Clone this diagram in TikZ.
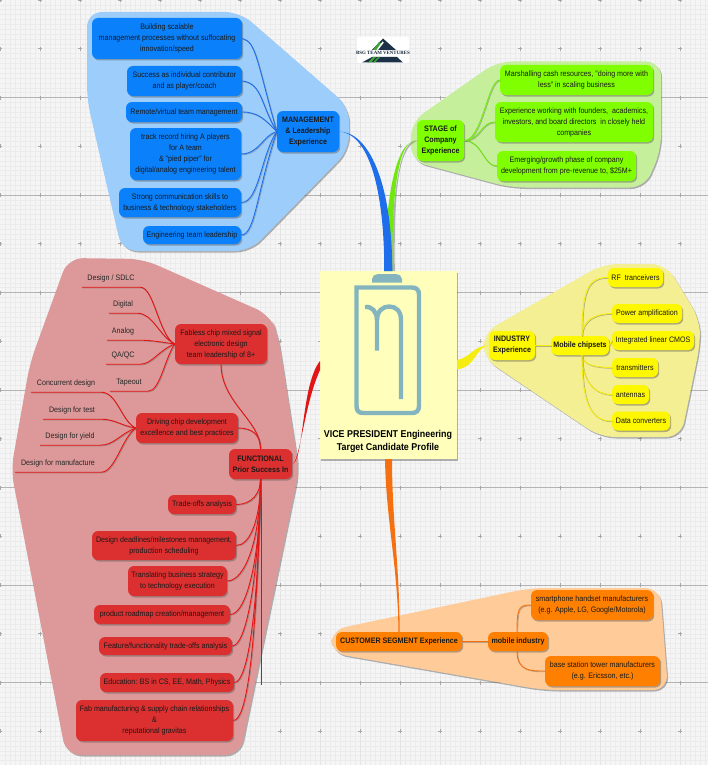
\documentclass[tikz,border=0pt]{standalone}
\usepackage{fontspec}
\setmainfont{Liberation Sans}[FakeStretch=0.9]
\newfontfamily\logofont{Liberation Serif}
\usetikzlibrary{shadows}
\definecolor{bgbase}{HTML}{F5F5F5}
\definecolor{gridminor}{HTML}{EBEBEB}
\definecolor{gridmajor}{HTML}{B4B4B4}
\definecolor{gridvert}{HTML}{E4E4E4}
\definecolor{tickgray}{HTML}{A8A8A8}
\definecolor{bluenode}{HTML}{0A80FA}
\definecolor{bluehull}{HTML}{9CCDFB}
\definecolor{blueline}{HTML}{1E6EEB}
\definecolor{greennode}{HTML}{80FF00}
\definecolor{greenhull}{HTML}{C6EF9C}
\definecolor{greenline}{HTML}{70E810}
\definecolor{yellownode}{HTML}{FDF700}
\definecolor{yellowhull}{HTML}{F3EF92}
\definecolor{yellowline}{HTML}{F5EC10}
\definecolor{orangenode}{HTML}{FF8000}
\definecolor{orangehull}{HTML}{FFCC99}
\definecolor{orangeline}{HTML}{F47010}
\definecolor{rednode}{HTML}{DC3030}
\definecolor{redhull}{HTML}{DD9999}
\definecolor{redline}{HTML}{E21414}
\definecolor{centerfill}{HTML}{FFFFBB}
\definecolor{iconcolor}{HTML}{84B5BF}
\definecolor{logonavy}{HTML}{1C3048}
\definecolor{logogreen}{HTML}{3FA535}
\tikzset{
  softshadow/.style={drop shadow={shadow xshift=1.2pt,shadow yshift=-1.5pt,opacity=.45,fill=black!65}},
  boxbase/.style={rounded corners=6pt,inner sep=0pt,align=center,softshadow,
     font=\fontsize{7.9}{11}\selectfont,text=black!90},
  bluebox/.style={boxbase,fill=bluenode},
  greenbox/.style={boxbase,fill=greennode},
  yellowbox/.style={boxbase,fill=yellownode},
  orangebox/.style={boxbase,fill=orangenode},
  redbox/.style={boxbase,fill=rednode},
  hullbase/.style={rounded corners=15pt,softshadow},
  leaf/.style={inner sep=0pt,minimum height=17pt,align=center,
     font=\fontsize{7.9}{11}\selectfont,text=black!85},
  link/.style={line width=.9pt,preaction={draw=black!60,line width=.8pt,opacity=.45,
     transform canvas={xshift=.8pt,yshift=-.8pt}}},
  bluelink/.style={link,draw=blueline},
  greenlink/.style={link,draw=greenline},
  yellowlink/.style={link,draw=yellowline},
  orangelink/.style={link,draw=orangeline},
  redlink/.style={link,draw=redline},
  iconstroke/.style={draw=iconcolor,line width=4.4pt,fill=none},
  tickmark/.style={draw=tickgray,line width=.6pt}
}
\newcommand{\bb}[1]{\textbf{#1}}
\begin{document}
\begin{tikzpicture}[x=1pt,y=-1pt]
\useasboundingbox (0,0) rectangle (710,768);
% ---------- grid background
\fill[bgbase] (0,0) rectangle (708,765);
\foreach \k in {1,...,141} \draw[gridminor,line width=.5pt] (5*\k,0) -- (5*\k,765);
\foreach \k in {1,...,156} \draw[gridminor,line width=.5pt] (0,4.875*\k) -- (708,4.875*\k);
\foreach \k in {1,...,17} \draw[gridvert,line width=.6pt] (40*\k,0) -- (40*\k,765);
\foreach \k in {1,...,7} \draw[gridmajor,line width=.8pt] (0,97.5*\k) -- (708,97.5*\k);
\foreach \i in {0,...,17} \foreach \j in {0,...,15} {
  \draw[tickmark] (40*\i-2,48.75*\j) -- (40*\i+2,48.75*\j);
  \draw[tickmark] (40*\i,48.75*\j-2) -- (40*\i,48.75*\j+2);
}
% ---------- hulls
\fill[bluehull,hullbase] (87,12) -- (240,12) -- (349,107) -- (349,150) -- (250,251) -- (122,251) -- (87,100) -- cycle;
\fill[greenhull,hullbase] (411,122) -- (497,61.5) -- (661,61.5) -- (661,150) -- (645,187.5) -- (510,187.5) -- (411,161) -- cycle;
\fill[yellowhull,hullbase] (483,333) -- (603,264) -- (666,264) -- (700,320) -- (700,345) -- (681,437) -- (600,437) -- (483,358) -- cycle;
\fill[orangehull,hullbase] (331,630) -- (530,588) -- (660,588) -- (668,690) -- (543,690) -- (331,653) -- cycle;
\fill[redhull,hullbase] (68,258) -- (143,259) -- (270,315) -- (278,335) -- (299,470) -- (240,755) -- (66,755) -- (11,470) -- (30,363) -- cycle;
% ---------- nodes
\node[draw=none,fill=centerfill,inner sep=0pt,minimum width=137pt,minimum height=188pt,softshadow] (center) at (388.5,365) {};
\node[font=\fontsize{9.9}{13}\bfseries\selectfont,align=center,inner sep=0pt] (centertext) at (388,441.5) {VICE PRESIDENT Engineering\\Target Candidate Profile};
% management
\node[bluebox,minimum width=150pt,minimum height=41pt] (m1) at (167,38.5) {Building scalable\\management processes without suffocating\\innovation/speed};
\node[bluebox,minimum width=115pt,minimum height=30pt] (m2) at (184.5,81) {Success as individual contributor\\and as player/coach};
\node[bluebox,minimum width=116pt,minimum height=20pt] (m3) at (184,112) {Remote/virtual team management};
\node[bluebox,minimum width=111pt,minimum height=52pt] (m4) at (185.5,154) {track record hiring A players\\for A team\\\& "pied piper" for\\digital/analog engineering talent};
\node[bluebox,minimum width=122pt,minimum height=29pt] (m5) at (180,202.5) {Strong communication skills to\\business \& technology stakeholders};
\node[bluebox,minimum width=98pt,minimum height=18pt] (m6) at (192,235) {Engineering team leadership};
\node[bluebox,minimum width=62pt,minimum height=41pt] (mgmt) at (308,131.5) {\bb{MANAGEMENT}\\\bb{\& Leadership}\\\bb{Experience}};
% stage
\node[greenbox,minimum width=47pt,minimum height=41pt] (stage) at (440.5,140.5) {\bb{STAGE of}\\\bb{Company}\\\bb{Experience}};
\node[greenbox,minimum width=153pt,minimum height=30pt] (s1) at (576.5,80) {Marshalling cash resources, "doing more with\\less" in scaling business};
\node[greenbox,minimum width=158pt,minimum height=40pt] (s2) at (574,122) {Experience working with founders,\ \ academics,\\investors, and board directors\ \ in closely held\\companies};
\node[greenbox,minimum width=139pt,minimum height=30pt] (s3) at (566.5,166) {Emerging/growth phase of company\\development from pre-revenue to, \$25M+};
% industry
\node[yellowbox,minimum width=46pt,minimum height=29pt] (ind) at (512,345.5) {\bb{INDUSTRY}\\\bb{Experience}};
\node[yellowbox,minimum width=58pt,minimum height=19pt] (mob) at (580,345.5) {\bb{Mobile chipsets}};
\node[yellowbox,minimum width=55pt,minimum height=19pt] (i1) at (635.5,277.5) {RF\ \ tranceivers};
\node[yellowbox,minimum width=70pt,minimum height=19pt] (i2) at (647,313.5) {Power amplification};
\node[yellowbox,minimum width=82pt,minimum height=19pt] (i3) at (653,340.5) {Integrated linear CMOS};
\node[yellowbox,minimum width=46pt,minimum height=19pt] (i4) at (635,367.5) {transmitters};
\node[yellowbox,minimum width=37pt,minimum height=19pt] (i5) at (630.5,394.5) {antennas};
\node[yellowbox,minimum width=58pt,minimum height=19pt] (i6) at (641,421) {Data converters};
% customer
\node[orangebox,minimum width=126pt,minimum height=19pt] (cust) at (399,641.5) {\bb{CUSTOMER SEGMENT Experience}};
\node[orangebox,minimum width=60pt,minimum height=19pt] (cmob) at (518,641.5) {\bb{mobile industry}};
\node[orangebox,minimum width=122pt,minimum height=30pt] (c1) at (592,605) {smartphone handset manufacturers\\(e.g. Apple, LG, Google/Motorola)};
\node[orangebox,minimum width=115pt,minimum height=30pt] (c2) at (602.5,671) {base station tower manufacturers\\(e.g. Ericsson, etc.)};
% functional
\node[redbox,minimum width=63pt,minimum height=30pt] (func) at (260.5,464) {\bb{FUNCTIONAL}\\\bb{Prior Success In}};
\node[redbox,minimum width=92pt,minimum height=40pt] (f1) at (221,344) {Fabless chip mixed signal\\electronic design\\team leadership of 8+};
\node[redbox,minimum width=102pt,minimum height=30pt] (f2) at (187,428) {Driving chip development\\excellence and best practices};
\node[redbox,minimum width=68pt,minimum height=19pt] (r1) at (202,504.5) {Trade-offs analysis};
\node[redbox,minimum width=144pt,minimum height=29pt] (r2) at (164,545.5) {Design deadlines/milestones management,\\production scheduling};
\node[redbox,minimum width=99pt,minimum height=30pt] (r3) at (177.5,581) {Translating business strategy\\to technology execution};
\node[redbox,minimum width=136pt,minimum height=19pt] (r4) at (162,614.5) {product roadmap creation/management};
\node[redbox,minimum width=133pt,minimum height=18pt] (r5) at (165.5,646) {Feature/functionality trade-offs analysis};
\node[redbox,minimum width=134pt,minimum height=19pt] (r6) at (167,682.5) {Education: BS in CS, EE, Math, Physics};
\node[redbox,minimum width=157pt,minimum height=41pt] (r7) at (154.5,720.5) {Fab manufacturing \& supply chain relationships\\\&\\reputational gravitas};
% leaves
\node[leaf,minimum width=58pt] (l1) at (111,278.5) {Design / SDLC};
\node[leaf,minimum width=28pt] (l2) at (123,304.5) {Digital};
\node[leaf,minimum width=32pt] (l3) at (123,331.5) {Analog};
\node[leaf,minimum width=34pt] (l4) at (123,355.5) {QA/QC};
\node[leaf,minimum width=38pt] (l5) at (129,382.5) {Tapeout};
\node[leaf,minimum width=70pt] (l6) at (66,383.5) {Concurrent design};
\node[leaf,minimum width=58pt] (l7) at (72,410.5) {Design for test};
\node[leaf,minimum width=60pt] (l8) at (70,436.5) {Design for yield};
\node[leaf,minimum width=86pt] (l9) at (58,463.5) {Design for manufacture};
% ---------- connectors
\foreach \c/\x in {m1/{+(14,3) and +(-20,-70)},m2/{+(20,2) and +(-16,-26)},m3/{+(16,0) and +(-12,-12)},m4/{+(18,0) and +(-14,4)},m5/{+(18,0) and +(-16,24)},m6/{+(14,0) and +(-20,60)}}
  {\draw[bluelink] (\c.east) .. controls \x .. (mgmt.west);}
\draw[greenlink] (stage.east) .. controls +(18,0) and +(-12,0) .. (s1.west);
\draw[greenlink] (stage.east) .. controls +(16,0) and +(-14,0) .. (s2.west);
\draw[greenlink] (stage.east) .. controls +(18,0) and +(-14,0) .. (s3.west);
\draw[yellowlink] (ind.east) -- (mob.west);
\draw[yellowlink] ([xshift=2pt]mob.north) .. controls +(0,-46) and +(-20,0) .. (i1.west);
\draw[yellowlink] ([xshift=2pt]mob.north) .. controls +(0,-16) and +(-16,0) .. (i2.west);
\draw[yellowlink] (mob.east) -- (i3.west);
\draw[yellowlink] ([xshift=2pt]mob.south) .. controls +(0,10) and +(-14,0) .. (i4.west);
\draw[yellowlink] ([xshift=2pt]mob.south) .. controls +(0,28) and +(-16,0) .. (i5.west);
\draw[yellowlink] ([xshift=2pt]mob.south) .. controls +(0,50) and +(-20,0) .. (i6.west);
\draw[orangelink] (cust.east) -- (cmob.west);
\draw[orangelink] ([xshift=-1pt]cmob.north) .. controls +(0,-24) and +(-12,0) .. (c1.west);
\draw[orangelink] ([xshift=-1pt]cmob.south) .. controls +(0,20) and +(-14,0) .. (c2.west);
\draw[redlink] (f1.south) .. controls +(0,38) and +(0,-28) .. (func.north);
\draw[redlink] (f2.east) .. controls +(14,0) and +(0,-14) .. (func.north);
\draw[black!70,line width=.9pt] (261.5,479) -- (261.5,685);
\foreach \c/\x in {r1/{+(16,0) and +(0,14)},r2/{+(14,0) and +(0,40)},r3/{+(18,0) and +(0,60)},r4/{+(16,0) and +(0,80)},r5/{+(14,0) and +(-2,100)},r6/{+(14,0) and +(-2,130)},r7/{+(14,0) and +(-4,170)}}
  {\draw[redlink] (\c.east) .. controls \x .. (func.south);}
\foreach \l/\x in {l1/{+(14,0) and +(-16,-8)},l2/{+(16,0) and +(-16,-8)},l3/{+(12,0) and +(-14,-2)},l4/{+(12,0) and +(-16,6)},l5/{+(12,0) and +(-10,14)}}
  {\draw[redlink] (\l.south west) -- (\l.south east) .. controls \x .. (f1.west);}
\foreach \l/\x in {l6/{+(16,0) and +(-14,-6)},l7/{+(14,0) and +(-14,-2)},l8/{+(14,0) and +(-16,6)},l9/{+(14,0) and +(-14,10)}}
  {\draw[redlink] (\l.south west) -- (\l.south east) .. controls \x .. (f2.west);}
% tapered main branches
\coordinate (blueA) at (392.3,271);
\coordinate (blueB) at (384.2,271);
\fill[black!55,opacity=.5] ([xshift=1.5pt]stage.west) .. controls (398,146) and (394,190) .. ([xshift=2.5pt]blueA) -- ([xshift=-1pt]blueA) .. controls (392,190) and (400,140) .. (stage.west) -- cycle;
\fill[greenline] (stage.west) .. controls (398,140) and (392,190) .. (blueA) -- (blueB) .. controls (386,190) and (397,140) .. (stage.west) -- cycle;
\fill[blueline] (mgmt.east) .. controls (368,132) and (392,180) .. (blueA) -- (blueB) .. controls (384.5,200) and (372,134) .. (mgmt.east) -- cycle;
\coordinate (redA) at (320,361);
\coordinate (redB) at (320,370);
\fill[redline] (func.east) .. controls (300,462) and (304,405) .. (redB) -- (redA) .. controls (301,385) and (304,462) .. (func.east) -- cycle;
\coordinate (yelA) at (457,360);
\coordinate (yelB) at (457,369);
\fill[yellowline] (ind.west) .. controls (476,346) and (475,369) .. (yelB) -- (yelA) .. controls (470,358) and (474,345) .. (ind.west) -- cycle;
\coordinate (oraA) at (385,459);
\coordinate (oraB) at (392,459);
\coordinate (oraC) at (cust.north);
\fill[orangeline] (oraA) .. controls (386,520) and (398.3,570) .. ([xshift=-.6pt]oraC) -- ([xshift=.6pt]oraC) .. controls (399.8,570) and (392,520) .. (oraB) -- cycle;
% ---------- icon in the centre
\fill[iconcolor] (372,282.5) -- (372,279) .. controls (372,276) and (375,274) .. (378,274) -- (396,274) .. controls (399,274) and (402,276) .. (402,279) -- (402,282.5) -- cycle;
\draw[iconstroke,line join=miter] (356.5,287.5) -- (412,287.5) .. controls (416.5,287.5) and (419,290) .. (419,294.5) -- (419,406) .. controls (419,410.5) and (416.5,413) .. (412,413) -- (363,413) .. controls (358.5,413) and (356.5,410.5) .. (356.5,406) -- cycle;
\draw[iconstroke] (365,307) .. controls (372,306) and (377,312) .. (377,320) -- (377,350.5);
\draw[iconstroke] (377,320) .. controls (377,311) and (383,306.5) .. (389,306.5) .. controls (396,306.5) and (401,311) .. (401,320) -- (401,399);
% ---------- logo
\node[fill=white,rounded corners=2.5pt,inner sep=0pt,minimum width=52pt,minimum height=26.5pt] (logo) at (383,50) {};
\fill[logonavy] (383,38.5) -- (396,50) -- (372,50) -- cycle;
\fill[logogreen] (379,42) -- (382,44) -- (376,50) -- (373,50) -- cycle;
\fill[white] (382.5,41.5) -- (383.8,42.6) -- (378,50) -- (376.4,50) -- cycle;
\fill[logonavy] (372,57) -- (397,57) -- (403,62.5) -- (362,62.5) -- cycle;
\fill[logogreen] (368,62.5) -- (373,57) -- (376,57) -- (371,62.5) -- cycle;
\fill[logogreen] (373,62.5) -- (378,57) -- (380,57) -- (375,62.5) -- cycle;
\node[font=\logofont\fontsize{4.9}{5}\bfseries\selectfont,text=logonavy!80!black,inner sep=0pt] (logotext) at (383,53) {BSG TEAM VENTURES};
\end{tikzpicture}
\end{document}
